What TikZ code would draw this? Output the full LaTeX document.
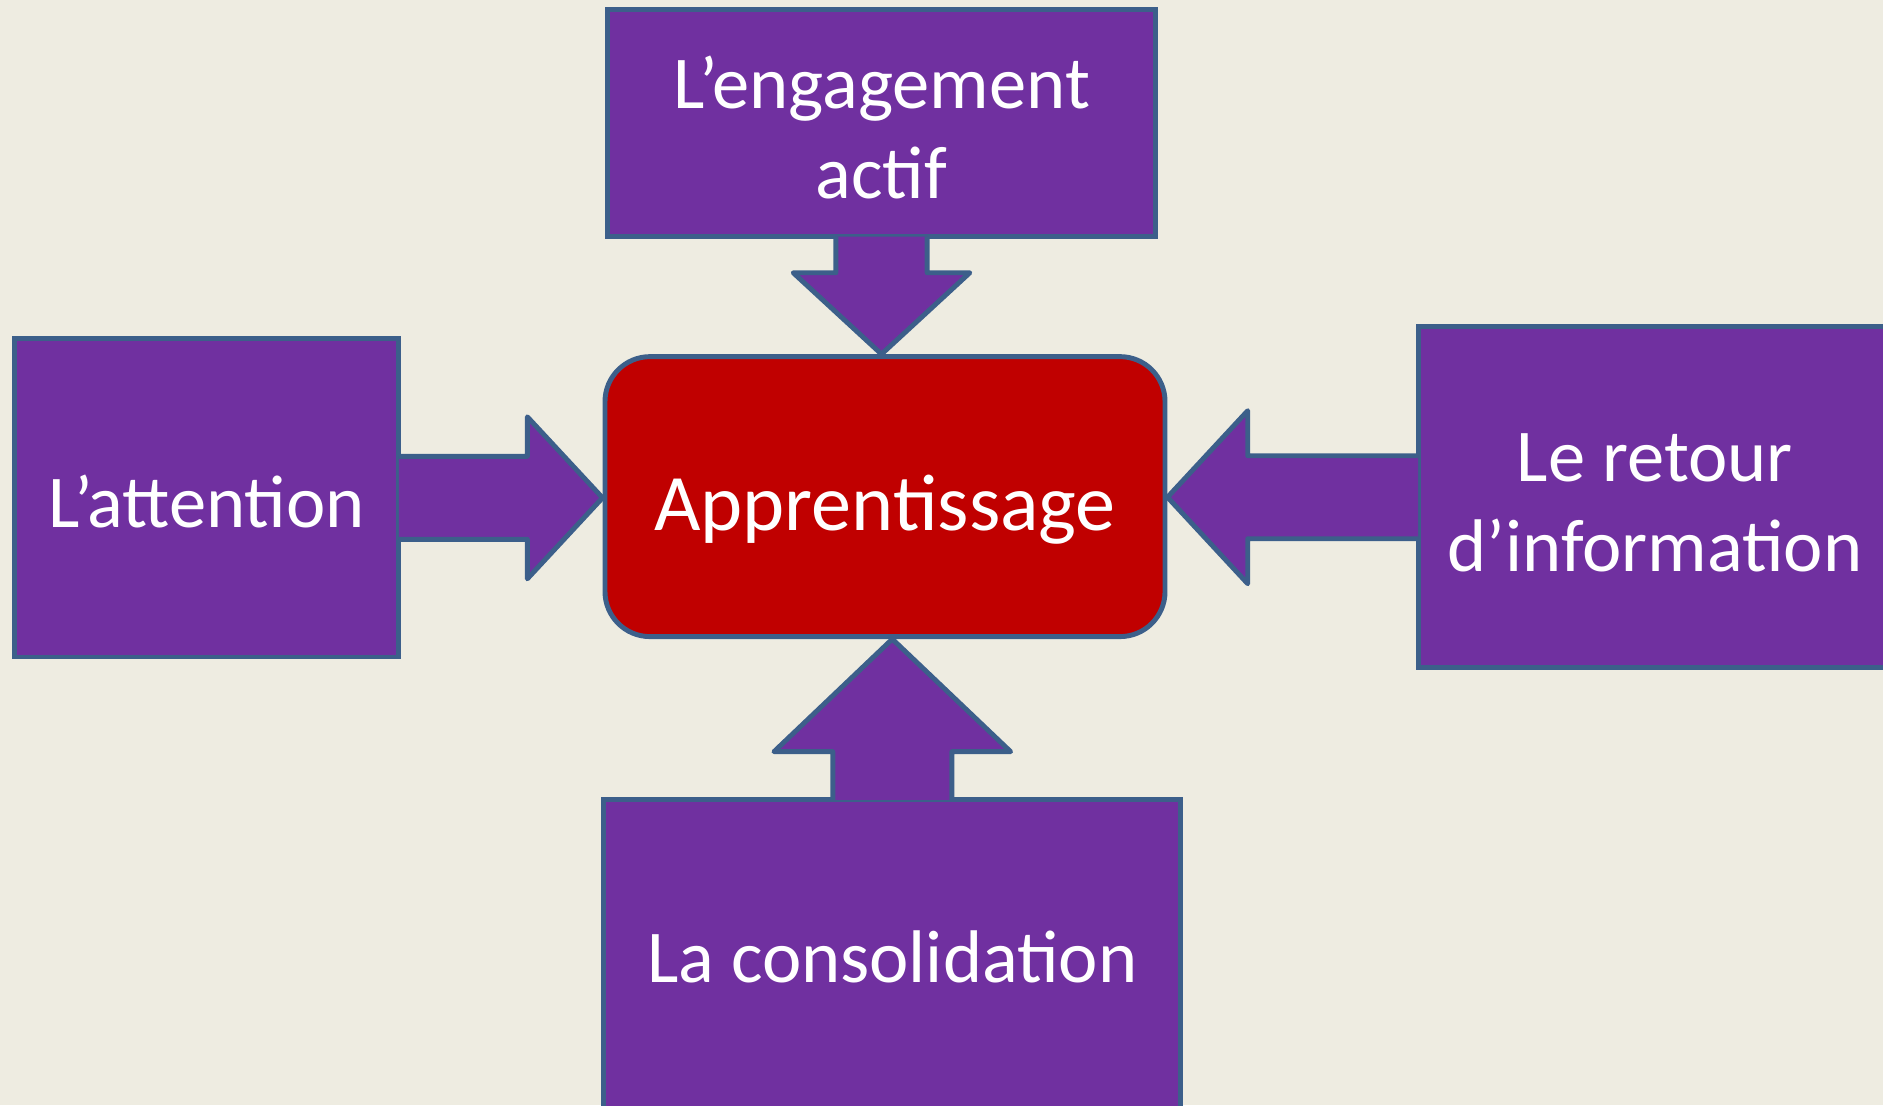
\documentclass[tikz,border=0pt]{standalone}
\usepackage{fontspec}
\setmainfont{Carlito}
\usepackage{tikz}
\usetikzlibrary{positioning,calc}
\definecolor{fond}{HTML}{EEECE1}
\definecolor{violet}{HTML}{7030A0}
\definecolor{rouge}{HTML}{C00000}
\definecolor{bord}{HTML}{3C5F8A}

\begin{document}
\begin{tikzpicture}[x=0.01cm,y=-0.01cm,
    bloc/.style={draw=bord,fill=violet,line width=1.4pt,text=white,inner sep=0pt,
      align=center,font=\fontsize{21.2}{25.6}\selectfont},
    fleche/.style={draw=bord,fill=violet,line width=1.4pt,line join=round},
    centre/.style={draw=bord,fill=rouge,line width=1.4pt,text=white,inner sep=0pt,
      rounded corners=0.45cm,font=\fontsize{22.8}{26}\selectfont}]
      \useasboundingbox (0,0) rectangle (1883,1105);
      \clip (0,0) rectangle (1883,1105);
      \fill[fond] (0,0) rectangle (1883,1105);
      %
      \node[centre,minimum width=5.597cm,minimum height=2.798cm,text height=19pt,text depth=0pt] at (885,496.6)(app){Apprentissage};
      \node[bloc,minimum width=5.477cm,minimum height=2.27cm] at (881.5,123.1)(eng){\rule{0pt}{17.2pt}L’engagement\\actif};
      \node[bloc,minimum width=3.843cm,minimum height=3.182cm,text height=16.8pt,text depth=0pt] at (206.6,497.8)(att){L’attention};
      \node[bloc,minimum width=4.73cm,minimum height=3.411cm] at (1654.8,497.2)(ret){\rule{0pt}{16.8pt}Le retour\\d’information};
      \node[bloc,minimum width=5.765cm,minimum height=3.218cm,text height=12.5pt,text depth=0pt] at (892.3,960.7)(con){La consolidation};
      %
      \draw[fleche] ($(eng.south)+(-45.6,-2.5)$) -- ++(0,36.1) -- ++(-42.7,0)
        -- (eng.south |- app.north) -- ($(eng.south)+(88.3,33.6)$) -- ++(-42.7,0) -- ++(0,-36.1);
      \draw[fleche] ($(att.east)+(-2.5,-41.5)$) -- ++(128.5,0) -- ++(0,-39.5)
        -- (app.west |- att.east) -- ($(att.east)+(126,81)$) -- ++(0,-39.5) -- ++(-128.5,0);
      \draw[fleche] ($(ret.west)+(2.5,-41.5)$) -- ++(-170.5,0) -- ++(0,-45)
        -- (app.east |- ret.west) -- ($(ret.west)+(-168,86.5)$) -- ++(0,-45) -- ++(170.5,0);
      \draw[fleche] ($(con.north)+(-59.5,2.5)$) -- ++(0,-48.1) -- ++(-58.8,0)
        -- (con.north |- app.south) -- ($(con.north)+(118.3,-45.6)$) -- ++(-58.8,0) -- ++(0,48.1);
    \end{tikzpicture}
\end{document}
